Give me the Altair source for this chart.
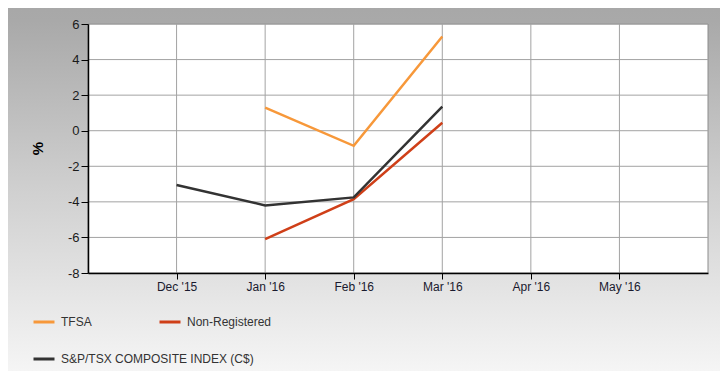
import altair as alt
import pandas as pd

months = ["Nov '15", "Dec '15", "Jan '16", "Feb '16", "Mar '16", "Apr '16", "May '16", "Jun '16"]
tick_months = ["Dec '15", "Jan '16", "Feb '16", "Mar '16", "Apr '16", "May '16"]
grid_months = ["Dec '15", "Jan '16", "Feb '16", "Mar '16", "Apr '16", "May '16"]
y_ticks = [-8, -6, -4, -2, 0, 2, 4, 6]
y_grid = [-6, -4, -2, 0, 2, 4, 6]

series_names = ["TFSA", "S&P/TSX COMPOSITE INDEX (C$)", "Non-Registered"]
series_colors = ["#f7983a", "#333333", "#cf3f18"]

tfsa_months = ["Jan '16", "Feb '16", "Mar '16"]
tfsa_values = [1.3, -0.85, 5.3]
nonreg_months = ["Jan '16", "Feb '16", "Mar '16"]
nonreg_values = [-6.1, -3.85, 0.45]
index_months = ["Dec '15", "Jan '16", "Feb '16", "Mar '16"]
index_values = [-3.05, -4.2, -3.75, 1.35]

rows = []
for name, ms, vs in [("TFSA", tfsa_months, tfsa_values),
                     ("Non-Registered", nonreg_months, nonreg_values),
                     ("S&P/TSX COMPOSITE INDEX (C$)", index_months, index_values)]:
    for m, v in zip(ms, vs):
        rows.append({"month": m, "value": v, "series": name})
df = pd.DataFrame(rows)

W, H = 620, 249
PL, PT, PR, PB = 80, 16, 12, 98

xscale = alt.Scale(domain=months, type="point", padding=0)
yscale = alt.Scale(domain=[-8, 6], nice=False)

x_axis = alt.Axis(values=tick_months, title=None, labelAngle=0, labelAlign="center",
                  labelFlush=False, labelOverlap=False,
                  domainColor="black", domainWidth=1.5, tickColor="black",
                  tickSize=6, labelPadding=2, labelFont="Liberation Sans",
                  labelFontSize=12, labelColor="#1a1a2e", grid=False, zindex=1)
y_axis = alt.Axis(values=y_ticks, title="%", titleFont="Liberation Sans",
                  titleFontSize=15, titleFontWeight="bold", titleColor="black",
                  titleX=-43, titleY=124, titleAngle=270,
                  labelOverlap=False, labelFlush=False, labelExpr="'' + datum.value",
                  domainColor="black", domainWidth=1.5, tickColor="black",
                  tickSize=7, labelPadding=2, labelFont="Liberation Sans",
                  labelFontSize=13, labelColor="#1a1a1a", grid=False, zindex=1)

one = pd.DataFrame({"a": [0]})

bg = alt.Chart(one).mark_rect(
    cornerRadius=13,
    color=alt.Gradient(
        gradient="linear", x1=0, y1=0, x2=0, y2=1,
        stops=[alt.GradientStop(offset=0, color="#a7a7a7"),
               alt.GradientStop(offset=0.06, color="#a9a9a9"),
               alt.GradientStop(offset=0.5, color="#cfcfcf"),
               alt.GradientStop(offset=1, color="#f6f6f6")]),
).encode(x=alt.value(-PL - 10), x2=alt.value(W + 17), y=alt.value(-PT - 10), y2=alt.value(H + 103))

plotbg = alt.Chart(one).mark_rect(color="white", stroke="#8c8c8c", strokeWidth=1).encode(
    x=alt.value(0), x2=alt.value(W), y=alt.value(0), y2=alt.value(H))

vgrid = alt.Chart(pd.DataFrame({"month": grid_months})).mark_rule(
    color="#a3a3a3", strokeWidth=1).encode(
    x=alt.X("month:N", scale=xscale, sort=months, axis=x_axis), y=alt.value(0), y2=alt.value(H))

hgrid = alt.Chart(pd.DataFrame({"v": y_grid})).mark_rule(
    color="#a3a3a3", strokeWidth=1).encode(
    y=alt.Y("v:Q", scale=yscale, axis=y_axis), x=alt.value(0), x2=alt.value(W))

lines = alt.Chart(df).mark_line(strokeWidth=2.5).encode(
    x=alt.X("month:N", scale=xscale, sort=months, axis=x_axis),
    y=alt.Y("value:Q", scale=yscale, axis=y_axis),
    color=alt.Color("series:N", scale=alt.Scale(domain=series_names, range=series_colors),
                    legend=alt.Legend(title=None, orient="none", legendX=-56, legendY=286,
                                      columns=2, gridAlign="none", columnPadding=-101,
                                      rowPadding=19, symbolType="stroke",
                                      symbolSize=441, symbolStrokeWidth=3, labelLimit=400,
                                      labelFont="Liberation Sans", labelFontSize=12,
                                      labelColor="#333333", labelOffset=5)),
    order=alt.Order("month_index:Q"),
).transform_calculate(
    month_index="indexof(" + str(months) + ", datum.month)"
)

chart = alt.layer(bg, plotbg, vgrid, hgrid, lines).properties(
    width=W, height=H,
    autosize=alt.AutoSizeParams(type="none"),
    padding={"left": PL, "top": PT, "right": PR, "bottom": PB},
    background="white",
).configure_view(stroke=None)

chart.save("out.html", embed_options={"renderer": "svg", "actions": False})
